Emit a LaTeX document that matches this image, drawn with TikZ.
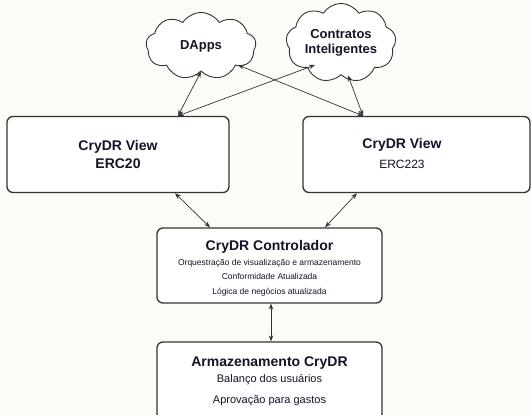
\documentclass[tikz,border=0pt]{standalone}
\usepackage{fontspec}
\setmainfont{Liberation Sans}
\usetikzlibrary{shapes.symbols,arrows.meta}
\definecolor{paper}{RGB}{252,252,247}
\definecolor{edge}{RGB}{51,51,51}
\definecolor{ink}{RGB}{20,20,40}

\begin{document}
\begin{tikzpicture}[x=1pt,y=-1pt,
  box/.style={draw=edge, line width=1.3pt, rounded corners=6pt, fill=white, align=center, text=ink, inner sep=0pt},
  wolke/.style={cloud, cloud puffs=9, cloud puff arc=115, aspect=1.6, draw=edge, line width=0.9pt, fill=white, align=center, text=ink, inner sep=0pt, minimum width=110pt, minimum height=67pt, font=\bfseries\fontsize{13}{15}\selectfont},
  link/.style={{Stealth[length=6pt,width=4.5pt]}-{Stealth[length=6pt,width=4.5pt]}, line width=0.7pt, draw=edge},
  titel/.style={font=\bfseries\fontsize{14}{18}\selectfont}]

\fill[paper] (0,0) rectangle (531,415);
\useasboundingbox (0,0) rectangle (531,415);

% clouds
\node[wolke] (dapps) at (201,46) {DApps};
\node[wolke] (contratos) at (341,43) {Contratos\\Inteligentes};

% views
\node[box, titel, minimum width=222pt, minimum height=76pt] (view20) at (118,154.5) {CryDR View\\ERC20};
\node[box, minimum width=227pt, minimum height=76pt] (view223) at (416.5,154.5) {};
\node[titel, align=center, text=ink] (t223) at (402,153) {CryDR View\\[2pt]{\mdseries\fontsize{12}{14}\selectfont ERC223}};

% controller
\node[box, minimum width=225pt, minimum height=75pt, font=\fontsize{8.5}{14}\selectfont] (ctrl) at (269.5,265.5)
  {{\bfseries\fontsize{14}{16}\selectfont\rule{0pt}{16pt}CryDR Controlador}\\[1pt]
   Orquestração de visualização e armazenamento\\
   Conformidade Atualizada\\[1pt]
   Lógica de negócios atualizada};

% storage
\node[box, minimum width=225pt, minimum height=78pt, font=\fontsize{11}{16}\selectfont] (store) at (269.5,381)
  {{\bfseries\fontsize{14}{16}\selectfont Armazenamento CryDR}\\
   Balanço dos usuários\\[5pt]
   Aprovação para gastos};

% connectors
\draw[link] (dapps.south) -- ([xshift=60pt]view20.north);
\draw[link] ([shift={(-26,22)}]contratos.center) -- ([xshift=60pt]view20.north);
\draw[link] ([shift={(37,19)}]dapps.center) -- ([xshift=-53.5pt]view223.north);
\draw[link] ([xshift=7pt]contratos.south) -- ([xshift=-53.5pt]view223.north);
\draw[link] ([xshift=57pt]view20.south) -- ([xshift=-59.5pt]ctrl.north);
\draw[link] ([xshift=-59.5pt]view223.south) -- ([xshift=55.5pt]ctrl.north);
\draw[link] ([xshift=1.5pt]ctrl.south) -- ([xshift=1.5pt]store.north);
\end{tikzpicture}
\end{document}
